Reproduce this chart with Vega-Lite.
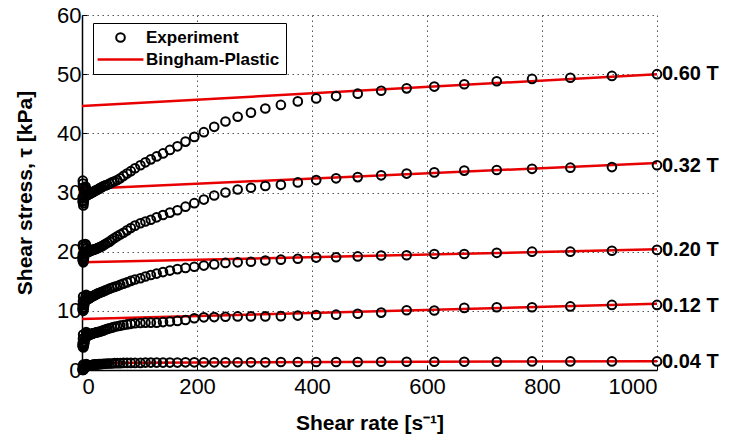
{
  "$schema": "https://vega.github.io/schema/vega-lite/v6.json",
  "width": 575,
  "height": 355,
  "autosize": "none",
  "padding": {"left": 82, "top": 15, "right": 73, "bottom": 67},
  "background": "white",
  "config": {
    "view": {"stroke": null},
    "font": "Liberation Sans",
    "axis": {
      "grid": true,
      "gridColor": "#555555",
      "gridDash": [1.5, 3.5],
      "gridWidth": 1,
      "domainColor": "black",
      "domainWidth": 1.5,
      "tickColor": "black",
      "tickSize": -5,
      "tickWidth": 1,
      "labelFont": "Liberation Sans",
      "labelFontSize": 22,
      "labelColor": "black",
      "titleFont": "Liberation Sans",
      "titleFontSize": 21,
      "titleFontWeight": "bold",
      "titleColor": "black"
    },
    "legend": {
      "title": null,
      "orient": "none",
      "legendX": 11,
      "legendY": 8,
      "strokeColor": "black",
      "fillColor": "white",
      "padding": 6,
      "cornerRadius": 0,
      "labelFont": "Liberation Sans",
      "labelFontSize": 17,
      "labelFontWeight": "bold",
      "labelColor": "black",
      "labelLimit": 300,
      "symbolSize": 2000,
      "symbolOffset": 13,
      "labelOffset": 17,
      "symbolStrokeWidth": 2.5,
      "rowPadding": 4
    }
  },
  "datasets": {
    "exp": [
      {"x": 1.0, "a": 28.5, "b": 18.6, "c": 10.2, "d": 4.0, "e": 0.0},
      {"x": 1.2, "a": 29.2, "b": 19.0, "c": 10.5, "d": 4.3, "e": 0.1},
      {"x": 1.4, "a": 32.0, "b": 19.5, "c": 11.0, "d": 4.6, "e": 0.3},
      {"x": 1.7, "a": 31.5, "b": 21.2, "c": 11.6, "d": 5.3, "e": 0.6},
      {"x": 2.0, "a": 30.8, "b": 20.8, "c": 12.4, "d": 6.0, "e": 0.9},
      {"x": 2.3, "a": 27.8, "b": 18.2, "c": 10.0, "d": 3.8, "e": 0.0},
      {"x": 2.7, "a": 28.2, "b": 18.4, "c": 10.3, "d": 4.0, "e": 0.1},
      {"x": 3.2, "a": 28.6, "b": 18.8, "c": 10.6, "d": 4.2, "e": 0.2},
      {"x": 3.8, "a": 29.0, "b": 19.2, "c": 11.0, "d": 4.5, "e": 0.3},
      {"x": 4.4, "a": 29.5, "b": 19.6, "c": 11.3, "d": 4.8, "e": 0.4},
      {"x": 5.2, "a": 30.4, "b": 20.5, "c": 11.8, "d": 5.2, "e": 0.5},
      {"x": 6.1, "a": 31.0, "b": 21.3, "c": 12.3, "d": 5.7, "e": 0.7},
      {"x": 7.2, "a": 30.6, "b": 21.0, "c": 12.7, "d": 6.4, "e": 1.0},
      {"x": 8.5, "a": 30.2, "b": 20.6, "c": 12.5, "d": 6.2, "e": 0.9},
      {"x": 9.2, "a": 29.8, "b": 20.2, "c": 12.2, "d": 5.9, "e": 0.8},
      {"x": 10.0, "a": 29.6, "b": 19.9, "c": 12.0, "d": 5.8, "e": 0.7},
      {"x": 11.0, "a": 29.7, "b": 20.0, "c": 12.05, "d": 5.85, "e": 0.75},
      {"x": 12.0, "a": 29.7, "b": 20.0, "c": 12.1, "d": 5.9, "e": 0.75},
      {"x": 13.0, "a": 29.8, "b": 20.1, "c": 12.15, "d": 5.95, "e": 0.8},
      {"x": 14.1, "a": 29.8, "b": 20.1, "c": 12.2, "d": 6.0, "e": 0.8},
      {"x": 15.3, "a": 29.9, "b": 20.2, "c": 12.3, "d": 6.05, "e": 0.8},
      {"x": 16.6, "a": 30.0, "b": 20.2, "c": 12.4, "d": 6.1, "e": 0.85},
      {"x": 18.0, "a": 30.0, "b": 20.3, "c": 12.45, "d": 6.15, "e": 0.85},
      {"x": 19.5, "a": 30.1, "b": 20.3, "c": 12.5, "d": 6.2, "e": 0.9},
      {"x": 21.2, "a": 30.2, "b": 20.4, "c": 12.6, "d": 6.25, "e": 0.9},
      {"x": 23.0, "a": 30.3, "b": 20.4, "c": 12.7, "d": 6.3, "e": 0.9},
      {"x": 24.9, "a": 30.4, "b": 20.5, "c": 12.8, "d": 6.35, "e": 0.95},
      {"x": 27.1, "a": 30.5, "b": 20.6, "c": 12.9, "d": 6.4, "e": 0.95},
      {"x": 29.4, "a": 30.6, "b": 20.7, "c": 13.0, "d": 6.45, "e": 1.0},
      {"x": 31.9, "a": 30.8, "b": 20.8, "c": 13.1, "d": 6.5, "e": 1.0},
      {"x": 34.6, "a": 30.9, "b": 20.9, "c": 13.2, "d": 6.6, "e": 1.0},
      {"x": 37.5, "a": 31.1, "b": 21.1, "c": 13.3, "d": 6.7, "e": 1.05},
      {"x": 40.7, "a": 31.2, "b": 21.3, "c": 13.45, "d": 6.85, "e": 1.05},
      {"x": 44.2, "a": 31.3, "b": 21.5, "c": 13.6, "d": 6.95, "e": 1.1},
      {"x": 48.0, "a": 31.5, "b": 21.7, "c": 13.75, "d": 7.05, "e": 1.1},
      {"x": 52.0, "a": 31.7, "b": 22.0, "c": 13.9, "d": 7.15, "e": 1.1},
      {"x": 56.5, "a": 31.9, "b": 22.3, "c": 14.05, "d": 7.3, "e": 1.15},
      {"x": 61.3, "a": 32.1, "b": 22.6, "c": 14.2, "d": 7.4, "e": 1.15},
      {"x": 66.5, "a": 32.4, "b": 22.9, "c": 14.4, "d": 7.5, "e": 1.15},
      {"x": 72.1, "a": 32.8, "b": 23.2, "c": 14.6, "d": 7.6, "e": 1.2},
      {"x": 78.3, "a": 33.2, "b": 23.6, "c": 14.8, "d": 7.7, "e": 1.2},
      {"x": 84.9, "a": 33.6, "b": 24.0, "c": 15.05, "d": 7.8, "e": 1.2},
      {"x": 92.2, "a": 34.1, "b": 24.4, "c": 15.3, "d": 7.9, "e": 1.2},
      {"x": 101.6, "a": 34.6, "b": 24.8, "c": 15.5, "d": 7.95, "e": 1.2},
      {"x": 110.3, "a": 35.1, "b": 25.1, "c": 15.8, "d": 8.0, "e": 1.25},
      {"x": 119.7, "a": 35.6, "b": 25.4, "c": 16.05, "d": 8.0, "e": 1.25},
      {"x": 129.8, "a": 36.1, "b": 25.8, "c": 16.3, "d": 8.0, "e": 1.25},
      {"x": 140.9, "a": 36.6, "b": 26.2, "c": 16.55, "d": 8.1, "e": 1.25},
      {"x": 152.9, "a": 37.2, "b": 26.6, "c": 16.8, "d": 8.2, "e": 1.25},
      {"x": 165.9, "a": 37.8, "b": 27.0, "c": 17.05, "d": 8.3, "e": 1.25},
      {"x": 180.0, "a": 38.6, "b": 27.6, "c": 17.25, "d": 8.45, "e": 1.3},
      {"x": 195.3, "a": 39.4, "b": 28.2, "c": 17.45, "d": 8.75, "e": 1.3},
      {"x": 211.9, "a": 40.2, "b": 28.8, "c": 17.65, "d": 8.9, "e": 1.3},
      {"x": 229.9, "a": 41.1, "b": 29.5, "c": 17.85, "d": 8.95, "e": 1.3},
      {"x": 249.5, "a": 42.0, "b": 30.0, "c": 18.1, "d": 9.0, "e": 1.3},
      {"x": 270.7, "a": 42.8, "b": 30.5, "c": 18.2, "d": 9.05, "e": 1.3},
      {"x": 293.8, "a": 43.5, "b": 30.8, "c": 18.3, "d": 9.05, "e": 1.3},
      {"x": 318.8, "a": 44.2, "b": 31.1, "c": 18.5, "d": 9.05, "e": 1.3},
      {"x": 345.9, "a": 44.8, "b": 31.3, "c": 18.65, "d": 9.1, "e": 1.35},
      {"x": 375.3, "a": 45.4, "b": 31.7, "c": 18.8, "d": 9.2, "e": 1.35},
      {"x": 407.3, "a": 45.9, "b": 32.1, "c": 19.0, "d": 9.3, "e": 1.35},
      {"x": 441.9, "a": 46.3, "b": 32.4, "c": 19.05, "d": 9.35, "e": 1.35},
      {"x": 479.5, "a": 46.7, "b": 32.6, "c": 19.2, "d": 9.5, "e": 1.35},
      {"x": 520.3, "a": 47.2, "b": 32.9, "c": 19.35, "d": 9.7, "e": 1.4},
      {"x": 564.6, "a": 47.6, "b": 33.2, "c": 19.4, "d": 10.1, "e": 1.4},
      {"x": 612.7, "a": 47.9, "b": 33.4, "c": 19.6, "d": 10.05, "e": 1.4},
      {"x": 664.8, "a": 48.3, "b": 33.7, "c": 19.6, "d": 10.5, "e": 1.4},
      {"x": 721.3, "a": 48.8, "b": 33.8, "c": 19.8, "d": 10.6, "e": 1.4},
      {"x": 782.7, "a": 49.2, "b": 34.0, "c": 20.0, "d": 10.6, "e": 1.45},
      {"x": 849.3, "a": 49.4, "b": 34.2, "c": 20.0, "d": 10.75, "e": 1.45},
      {"x": 921.6, "a": 49.7, "b": 34.3, "c": 20.15, "d": 11.0, "e": 1.45},
      {"x": 1000, "a": 50.0, "b": 34.6, "c": 20.3, "d": 11.0, "e": 1.45}
    ],
    "fit": [
      {"series": "0.60 T", "x": 0, "y": 44.6},
      {"series": "0.60 T", "x": 1000, "y": 50.0},
      {"series": "0.32 T", "x": 0, "y": 30.6},
      {"series": "0.32 T", "x": 1000, "y": 35.0},
      {"series": "0.20 T", "x": 0, "y": 18.2},
      {"series": "0.20 T", "x": 1000, "y": 20.4},
      {"series": "0.12 T", "x": 0, "y": 8.6},
      {"series": "0.12 T", "x": 1000, "y": 11.2},
      {"series": "0.04 T", "x": 0, "y": 1.2},
      {"series": "0.04 T", "x": 1000, "y": 1.5}
    ],
    "labels": [
      {"x": 1000, "y": 50.1, "label": "0.60 T"},
      {"x": 1000, "y": 34.5, "label": "0.32 T"},
      {"x": 1000, "y": 20.3, "label": "0.20 T"},
      {"x": 1000, "y": 10.8, "label": "0.12 T"},
      {"x": 1000, "y": 1.4, "label": "0.04 T"}
    ]
  },
  "encoding": {
    "x": {
      "field": "x", "type": "quantitative",
      "scale": {"domain": [0, 1000], "nice": false},
      "axis": {"values": [0, 200, 400, 600, 800, 1000], "format": "d", "title": "Shear rate [s⁻¹]", "labelPadding": 11, "titlePadding": 15}
    },
    "y": {
      "field": "y", "type": "quantitative",
      "scale": {"domain": [0, 60], "nice": false},
      "axis": {"values": [0, 10, 20, 30, 40, 50, 60], "title": "Shear stress, τ [kPa]", "labelPadding": 6, "titlePadding": 21}
    }
  },
  "layer": [
    {
      "data": {"name": "fit"},
      "mark": {"type": "line", "strokeWidth": 2.5, "clip": false},
      "encoding": {
        "detail": {"field": "series"},
        "color": {
          "datum": "Bingham-Plastic", "type": "nominal",
          "scale": {"domain": ["Experiment", "Bingham-Plastic"], "range": ["black", "#e80000"]},
          "legend": {
            "encode": {
              "symbols": {
                "update": {
                  "shape": {"signal": "datum.value === 'Bingham-Plastic' ? 'stroke' : 'circle'"},
                  "size": {"signal": "datum.value === 'Bingham-Plastic' ? 2100 : 75"},
                  "strokeWidth": {"signal": "datum.value === 'Bingham-Plastic' ? 2.5 : 2"},
                  "fill": {"value": "transparent"}
                }
              }
            }
          }
        }
      }
    },
    {
      "data": {"name": "exp"},
      "transform": [{"fold": ["a", "b", "c", "d", "e"], "as": ["series", "y"]}],
      "mark": {"type": "point", "shape": "circle", "filled": false, "size": 75, "strokeWidth": 2, "opacity": 1, "clip": false},
      "encoding": {
        "y": {"field": "y", "type": "quantitative"},
        "color": {
          "datum": "Experiment", "type": "nominal",
          "scale": {"domain": ["Experiment", "Bingham-Plastic"], "range": ["black", "#e80000"]},
          "legend": {
            "encode": {
              "symbols": {
                "update": {
                  "shape": {"signal": "datum.value === 'Bingham-Plastic' ? 'stroke' : 'circle'"},
                  "size": {"signal": "datum.value === 'Bingham-Plastic' ? 2100 : 75"},
                  "strokeWidth": {"signal": "datum.value === 'Bingham-Plastic' ? 2.5 : 2"},
                  "fill": {"value": "transparent"}
                }
              }
            }
          }
        }
      }
    },
    {
      "data": {"name": "labels"},
      "mark": {"type": "text", "align": "left", "baseline": "middle", "dx": 5, "font": "Liberation Sans", "fontSize": 20, "fontWeight": "bold", "color": "black", "clip": false},
      "encoding": {"text": {"field": "label"}}
    }
  ]
}
